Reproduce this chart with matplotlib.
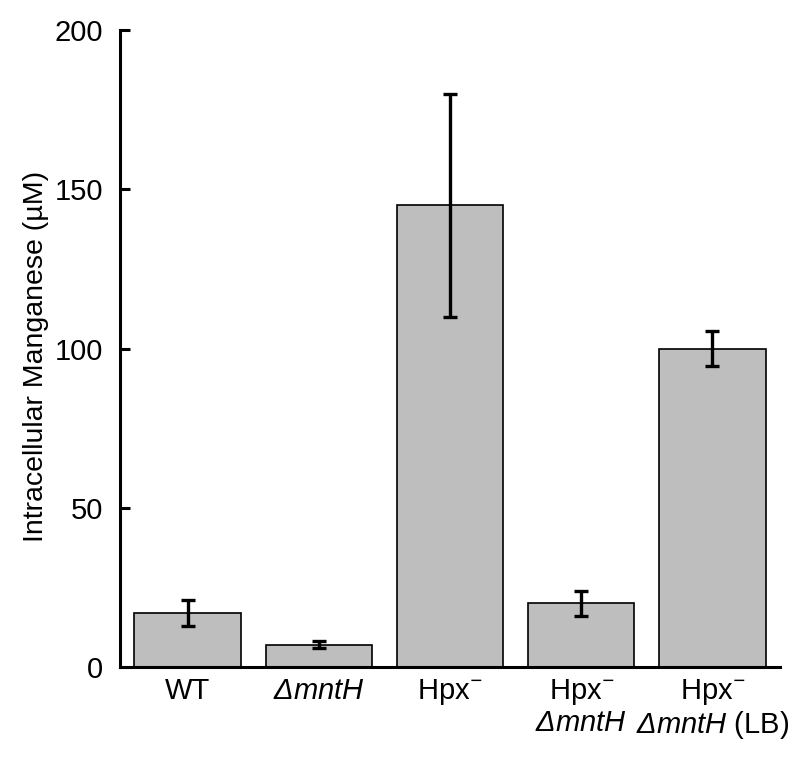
import matplotlib

matplotlib.use("Agg")
import matplotlib.pyplot as plt  # noqa: E402
import numpy as np  # noqa: E402

# valores (uM)
strains = ["WT", r"$ΔmntH$", r"Hpx$^{-}$",
           "Hpx$^{-}$\n$ΔmntH$", "Hpx$^{-}$\n$ΔmntH$ (LB)"]
mn_mean = [17, 7, 145, 20, 100]
mn_err = [4, 1.2, 35, 4, 5.5]

plt.rcParams["font.family"] = ["Liberation Sans", "DejaVu Sans"]
plt.rcParams["mathtext.fontset"] = "custom"
# rm italico tambem, para o Delta sair inclinado
plt.rcParams["mathtext.rm"] = "Liberation Sans:italic"
plt.rcParams["mathtext.it"] = "Liberation Sans:italic"


def main() -> None:
    fig = plt.figure(figsize=(8, 7.57), dpi=100)
    ax = fig.add_axes([0.15, 0.119, 0.825, 0.841])

    x = np.arange(len(strains))
    ax.bar(x, mn_mean, width=0.81, color="#bebebe", edgecolor="black", linewidth=1.2)
    ax.errorbar(x, mn_mean, yerr=mn_err, fmt="none", ecolor="black",
                elinewidth=2.4, capsize=5, capthick=2.4)

    ax.set_xlim(-0.515, 4.515)
    ax.set_ylim(0, 200)
    ax.set_yticks([0, 50, 100, 150, 200])
    ax.set_xticks(x)
    ax.set_xticklabels(strains, fontsize=21, linespacing=1.1)
    ax.tick_params(axis="x", length=0, pad=7)
    ax.tick_params(axis="y", direction="in", length=7, width=2.2, labelsize=21, pad=12)

    for s in ("top", "right"):
        ax.spines[s].set_visible(False)
    for s in ("left", "bottom"):
        ax.spines[s].set_linewidth(2.2)

    ax.set_ylabel("Intracellular Manganese (µM)", fontsize=20.5)
    ax.yaxis.set_label_coords(-0.108, 0.487)

    fig.savefig("out.png", dpi=100)


if __name__ == "__main__":
    main()
